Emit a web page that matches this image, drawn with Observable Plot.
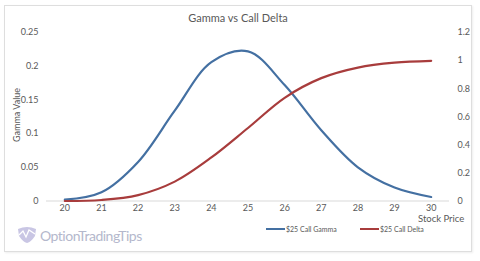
<!DOCTYPE html>
<html><head><meta charset="utf-8">
<script src="https://cdn.jsdelivr.net/npm/d3@7"></script>
<script src="https://cdn.jsdelivr.net/npm/@observablehq/plot@0.6"></script>
<style>
body{margin:0;background:#fff;font-family:Lato,"Open Sans",sans-serif;}
#wrap{position:relative;width:480px;height:261px;overflow:hidden;background:#fff;}
#frame{position:absolute;left:4px;top:5px;width:466px;height:245px;border:1px solid #dedede;box-shadow:1px 1px 2px rgba(0,0,0,0.07);}
#chart{position:absolute;left:0;top:0;}
.t{position:absolute;color:#595959;white-space:nowrap;}
#title{left:0;width:476px;top:11px;text-align:center;font-size:11px;}
#ylab{left:16px;top:115px;font-size:9px;transform:translate(-50%,-50%) rotate(-90deg);}
#xlab{left:418px;top:213px;font-size:9.5px;}
.leg{position:absolute;top:225px;font-size:7px;color:#595959;display:flex;align-items:center;}
.leg span.sw{display:inline-block;width:19px;height:2.4px;margin-right:1px;}
#logo{position:absolute;left:16px;top:226px;display:flex;align-items:center;}
#logo .txt{font-size:14px;color:#b4b8cc;letter-spacing:-0.5px;margin-left:2px;}
</style></head>
<body>
<div id="wrap">
  <div id="frame"></div>
  <div id="chart"></div>
  <div class="t" id="title">Gamma vs Call Delta</div>
  <div class="t" id="ylab">Gamma Value</div>
  <div class="t" id="xlab">Stock Price</div>
  <div class="leg" id="leg1" style="left:266px"><span class="sw" style="background:#4470a2"></span>$25 Call Gamma</div>
  <div class="leg" id="leg2" style="left:360px"><span class="sw" style="background:#a83c3c"></span>$25 Call Delta</div>
  <div id="logo">
    <svg width="22" height="18" viewBox="0 0 22 18">
      <path d="M2 3 Q11 -1 20 3 L19 10 Q15 16 11 17 Q7 16 3 10 Z" fill="#c9c6e4"/>
      <path d="M3 9 L7 5 L10 11 L13 4 L19 8" fill="none" stroke="#ffffff" stroke-width="1.3"/>
    </svg>
    <span class="txt">OptionTradingTips</span>
  </div>
</div>
<script>
const prices = [20, 21, 22, 23, 24, 25, 26, 27, 28, 29, 30];
const gamma  = [0.002, 0.013, 0.058, 0.134, 0.206, 0.222, 0.172, 0.105, 0.050, 0.020, 0.006];
const delta  = [0.000, 0.007, 0.042, 0.138, 0.310, 0.520, 0.735, 0.875, 0.950, 0.985, 0.998];
const leftTicks  = [0, 0.05, 0.1, 0.15, 0.2, 0.25];
const rightTicks = [0, 0.2, 0.4, 0.6, 0.8, 1, 1.2];
const xTicks = prices;
const leftMax = 0.25, rightMax = 1.2;
const k = leftMax / rightMax;

const gammaData = prices.map((p, i) => ({price: p, value: gamma[i]}));
const deltaData = prices.map((p, i) => ({price: p, value: delta[i] * k}));

const plot = Plot.plot({
  width: 480,
  height: 261,
  marginTop: 32,
  marginBottom: 60.5,
  marginLeft: 46,
  marginRight: 31,
  style: {fontFamily: "Lato, 'Open Sans', sans-serif", fontSize: "9px", color: "#595959", background: "transparent", overflow: "visible"},
  x: {domain: [19.5, 30.5]},
  y: {domain: [0, leftMax]},
  marks: [
    Plot.ruleY([0], {stroke: "#d9d9d9", strokeWidth: 1}),
    Plot.axisY({anchor: "left", ticks: leftTicks, tickSize: 0, tickPadding: 8, label: null, tickFormat: d => String(d)}),
    Plot.axisY({anchor: "right", ticks: rightTicks.map(v => v * k), tickSize: 0, tickPadding: 8, label: null,
      tickFormat: d => String(Math.round(d / k * 10) / 10)}),
    Plot.axisX({ticks: xTicks, tickSize: 0, tickPadding: 4, label: null, tickFormat: d => String(d)}),
    Plot.line(gammaData, {x: "price", y: "value", stroke: "#4470a2", strokeWidth: 2.2, curve: "catmull-rom"}),
    Plot.line(deltaData, {x: "price", y: "value", stroke: "#a83c3c", strokeWidth: 2.2, curve: "catmull-rom"})
  ]
});
document.getElementById("chart").appendChild(plot);
</script>
</body></html>
